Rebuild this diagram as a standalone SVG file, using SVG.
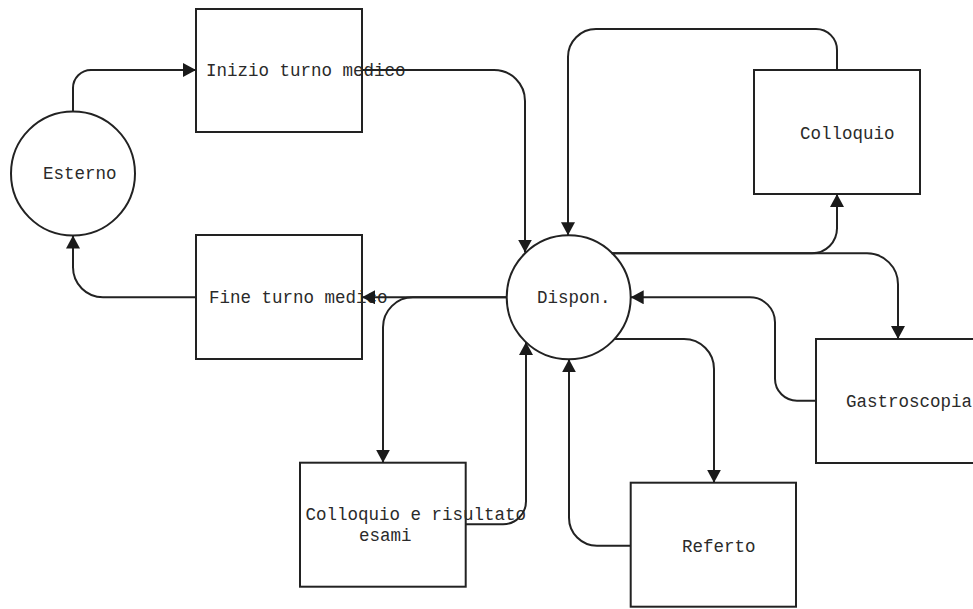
<svg xmlns="http://www.w3.org/2000/svg" width="973" height="609" viewBox="0 0 973 609">
  <style>
    .shape { fill: #ffffff; stroke: #222222; stroke-width: 2; }
    .label { font-family: "Liberation Mono", "Courier New", monospace; font-size: 17.5px; fill: #2a2a2a; }
    .edge { fill: none; stroke: #222222; stroke-width: 2; marker-end: url(#arrow); }
  </style>
  <defs>
    <marker id="arrow" markerUnits="userSpaceOnUse" markerWidth="14" markerHeight="15" refX="13" refY="7" orient="auto">
      <path d="M0,0 L13,7 L0,14 Z" fill="#1a1a1a"/>
    </marker>
  </defs>
  <rect width="973" height="609" fill="#ffffff"/>

  <!-- nodes -->
  <g id="esterno">
    <circle class="shape" cx="73" cy="173.5" r="62"/>
    <text class="label" x="43" y="179">Esterno</text>
  </g>
  <g id="inizio-turno">
    <rect class="shape" x="196" y="9" width="166" height="123"/>
    <text class="label" x="206" y="76">Inizio turno medico</text>
  </g>
  <g id="fine-turno">
    <rect class="shape" x="196" y="235" width="166" height="124"/>
    <text class="label" x="209" y="303">Fine turno medico</text>
  </g>
  <g id="dispon">
    <circle class="shape" cx="568.7" cy="297.3" r="62"/>
    <text class="label" x="537" y="303">Dispon.</text>
  </g>
  <g id="colloquio">
    <rect class="shape" x="754" y="70" width="166" height="124"/>
    <text class="label" x="800" y="138.5">Colloquio</text>
  </g>
  <g id="gastroscopia">
    <rect class="shape" x="816" y="339" width="166" height="124"/>
    <text class="label" x="846" y="406.5">Gastroscopia</text>
  </g>
  <g id="referto">
    <rect class="shape" x="630.7" y="482.7" width="165.3" height="124"/>
    <text class="label" x="682" y="551.7">Referto</text>
  </g>
  <g id="colloquio-esami">
    <rect class="shape" x="300" y="462.7" width="165.7" height="124"/>
    <text class="label" x="305.5" y="519.5">Colloquio e risultato</text>
    <text class="label" x="359" y="540.7">esami</text>
  </g>

  <!-- connectors -->
  <g id="connectors">
    <path class="edge" d="M73,111.5 V88 A18,18 0 0 1 91,70 H196"/>
    <path class="edge" d="M362,70 H494 A31,31 0 0 1 525,101 V252.6"/>
    <path class="edge" d="M837,70 V50 A21,21 0 0 0 816,29 H596 A28,28 0 0 0 568,57 V235.3"/>
    <path class="edge" d="M611.7,253.3 H812 A25,25 0 0 0 837,228.3 V194"/>
    <path class="edge" d="M611.7,253.3 H867 A31,31 0 0 1 898,284.3 V339"/>
    <path class="edge" d="M816,400.7 H797 A22,22 0 0 1 775,378.7 V322.3 A25,25 0 0 0 750,297.3 H630.7"/>
    <path class="edge" d="M614.6,339 H684 A30,30 0 0 1 714,369 V482.7"/>
    <path class="edge" d="M630.7,545.7 H597 A28,28 0 0 1 569,517.7 V359.3"/>
    <path class="edge" d="M506.7,297.3 H362"/>
    <path class="edge" d="M506.7,297.3 H413 A30,30 0 0 0 383,327.3 V462.7"/>
    <path class="edge" d="M465.7,524.3 H503 A23,23 0 0 0 526,501.3 V342"/>
    <path class="edge" d="M196,297.3 H103 A30,30 0 0 1 73,267.3 V235.5"/>
  </g>
</svg>
